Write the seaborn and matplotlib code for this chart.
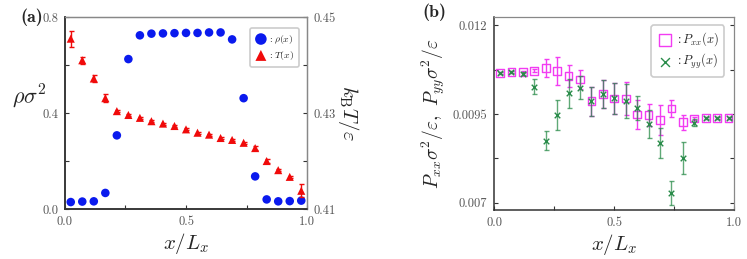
import numpy as np
import matplotlib
matplotlib.use('Agg')
import matplotlib.pyplot as plt
import seaborn as sns

# bin centres x / L_x (21 bins)
x_bins = [0.0238, 0.0714, 0.1190, 0.1667, 0.2143, 0.2619, 0.3095, 0.3571,
          0.4048, 0.4524, 0.5000, 0.5476, 0.5952, 0.6429, 0.6905, 0.7381,
          0.7857, 0.8333, 0.8810, 0.9286, 0.9762]

# panel (a)
rho = [0.029, 0.031, 0.032, 0.067, 0.307, 0.625, 0.724, 0.731, 0.732, 0.733,
       0.734, 0.734, 0.736, 0.736, 0.707, 0.462, 0.136, 0.040, 0.032, 0.033,
       0.035]
temp = [0.4455, 0.4410, 0.4372, 0.4331, 0.4304, 0.4296, 0.4290, 0.4283,
        0.4278, 0.4273, 0.4266, 0.4259, 0.4255, 0.4248, 0.4244, 0.4238,
        0.4227, 0.4200, 0.4181, 0.4167, 0.4138]
temp_err = [0.0017, 0.0007, 0.0007, 0.0008, 0.0002, 0.0002, 0.0002, 0.0002,
            0.0002, 0.0002, 0.0002, 0.0002, 0.0002, 0.0002, 0.0002, 0.0002,
            0.0004, 0.0004, 0.0002, 0.0002, 0.0014]

# panel (b)
pxx = [0.01065, 0.01068, 0.01068, 0.01072, 0.01080, 0.01071, 0.01057, 0.01047,
       0.00986, 0.01007, 0.00994, 0.00994, 0.00949, 0.00947, 0.00933, 0.00965,
       0.00927, 0.00937, 0.00939, 0.00939, 0.00939]
pxx_err = [0.00003, 0.00003, 0.00003, 0.00005, 0.00026, 0.00040, 0.00032,
           0.00027, 0.00041, 0.00040, 0.00043, 0.00046, 0.00041, 0.00032,
           0.00041, 0.00024, 0.00021, 0.00005, 0.00003, 0.00003, 0.00003]
pyy = [0.01065, 0.01068, 0.01063, 0.01027, 0.00875, 0.00947, 0.01008, 0.01024,
       0.00986, 0.01007, 0.00994, 0.00987, 0.00968, 0.00921, 0.00868, 0.00727,
       0.00826, 0.00925, 0.00939, 0.00939, 0.00939]
pyy_err = [0.00003, 0.00003, 0.00004, 0.00021, 0.00028, 0.00042, 0.00042,
           0.00032, 0.00041, 0.00040, 0.00043, 0.00047, 0.00034, 0.00039,
           0.00042, 0.00034, 0.00044, 0.00010, 0.00003, 0.00003, 0.00003]

sns.set_theme(style='ticks')
plt.rcParams['font.family'] = ['cmr10', 'DejaVu Serif']
plt.rcParams['mathtext.fontset'] = 'cm'
plt.rcParams['axes.formatter.use_mathtext'] = True

blue = '#0a1aee'
red = '#f00a0a'
magenta = '#f23cf2'
green = '#2a8c4a'
spine_dark = '#333333'
spine_light = '#888888'
label_col = '#555555'


def style_axes(ax):
    for s in ['left', 'bottom']:
        ax.spines[s].set_color(spine_dark)
        ax.spines[s].set_linewidth(1.1)
    for s in ['top', 'right']:
        ax.spines[s].set_color(spine_light)
        ax.spines[s].set_linewidth(0.9)
    ax.tick_params(direction='in', length=3, width=0.8, color=spine_dark,
                   labelsize=9, labelcolor=label_col, pad=5)
    ax.tick_params(which='minor', direction='in', length=3, width=0.8,
                   color=spine_dark)


fig = plt.figure(figsize=(7.47, 2.59), dpi=100)
ax1 = fig.add_axes([0.087, 0.193, 0.324, 0.741])
ax2 = fig.add_axes([0.6617, 0.189, 0.3213, 0.746])

# (a) density and temperature
ax1r = ax1.twinx()
sns.scatterplot(x=x_bins, y=rho, ax=ax1, color=blue, s=38, marker='o',
                edgecolor='none', legend=False, zorder=3)
ax1r.errorbar(x_bins, temp, yerr=temp_err, fmt='none', ecolor=red,
              elinewidth=1.0, capsize=1.8, capthick=1.0, zorder=2)
sns.scatterplot(x=x_bins, y=temp, ax=ax1r, color=red, s=34, marker='^',
                edgecolor='none', legend=False, zorder=3)

ax1.set_xlim(0, 1)
ax1.set_ylim(0, 0.8)
ax1r.set_ylim(0.41, 0.45)
ax1.set_xticks([0, 0.5, 1.0], ['0.0', '0.5', '1.0'])
ax1.set_xticks([0.25, 0.75], minor=True)
ax1.set_yticks([0, 0.4, 0.8], ['0.0', '0.4', '0.8'])
ax1.set_yticks([0.2, 0.6], minor=True)
ax1r.set_yticks([0.41, 0.43, 0.45], ['0.41', '0.43', '0.45'])
ax1r.set_yticks([0.42, 0.44], minor=True)
style_axes(ax1)
style_axes(ax1r)
ax1.set_xlabel(r'$x/L_x$', fontsize=15, labelpad=2)
ax1.set_ylabel(r'$\rho\sigma^2$', fontsize=16, rotation=0, ha='center',
               va='center')
ax1.yaxis.set_label_coords(-0.145, 0.59)
ax1r.set_ylabel(r'$k_\mathrm{B}T/\varepsilon$', fontsize=15, rotation=-90,
                labelpad=18)

h1 = ax1.collections[0]
h2 = ax1r.collections[-1]
leg1 = ax1r.legend([h1, h2], [r'$:\rho(x)$', r'$:T(x)$'], loc='upper right',
                   fontsize=7, markerscale=1.35, handletextpad=0.1,
                   handlelength=1.2, borderpad=0.5, labelspacing=0.35,
                   frameon=True, fancybox=True, edgecolor='#cccccc',
                   framealpha=1.0, bbox_to_anchor=(0.985, 0.97))
leg1.get_frame().set_linewidth(1.2)

# (b) pressure tensor components
ax2.errorbar(x_bins, pxx, yerr=pxx_err, fmt='none', ecolor=magenta,
             elinewidth=1.0, capsize=1.8, capthick=1.0, zorder=2)
sns.scatterplot(x=x_bins, y=pxx, ax=ax2, marker='s', s=30,
                facecolor='none', edgecolor=magenta, linewidth=1.0,
                legend=False, zorder=3)
ax2.errorbar(x_bins, pyy, yerr=pyy_err, fmt='none', ecolor=green,
             elinewidth=1.0, capsize=1.8, capthick=1.0, alpha=0.75, zorder=4)
sns.scatterplot(x=x_bins, y=pyy, ax=ax2, marker='x', s=16, color=green,
                linewidth=1.0, legend=False, zorder=5)

ax2.set_xlim(0, 1)
ax2.set_ylim(0.00679, 0.01224)
ax2.set_xticks([0, 0.5, 1.0], ['0.0', '0.5', '1.0'])
ax2.set_xticks([0.25, 0.75], minor=True)
ax2.set_yticks([0.007, 0.0095, 0.012], ['0.007', '0.0095', '0.012'])
ax2.set_yticks([0.00825, 0.01075], minor=True)
style_axes(ax2)
ax2.tick_params(right=True, which='both')
ax2.set_xlabel(r'$x/L_x$', fontsize=15, labelpad=2)
ax2.set_ylabel(r'$P_{xx}\sigma^2/\varepsilon,\ P_{yy}\sigma^2/\varepsilon$',
               fontsize=14, labelpad=4)

hx = ax2.collections[1]
hy = ax2.collections[-1]
leg2 = ax2.legend([hx, hy], [r'$:P_{xx}(x)$', r'$:P_{yy}(x)$'],
                  loc='upper right', fontsize=9, markerscale=1.6,
                  handletextpad=0.1, handlelength=1.3, borderpad=0.45,
                  labelspacing=0.3, frameon=True, fancybox=True,
                  edgecolor='#cccccc', framealpha=1.0,
                  bbox_to_anchor=(0.985, 0.99))
leg2.get_frame().set_linewidth(1.2)

fig.text(0.027, 0.915, '(a)', fontsize=13, fontweight='bold',
         family=['cmb10', 'DejaVu Serif'])
fig.text(0.566, 0.935, '(b)', fontsize=13, fontweight='bold',
         family=['cmb10', 'DejaVu Serif'])

plt.savefig('out.png', dpi=100)
